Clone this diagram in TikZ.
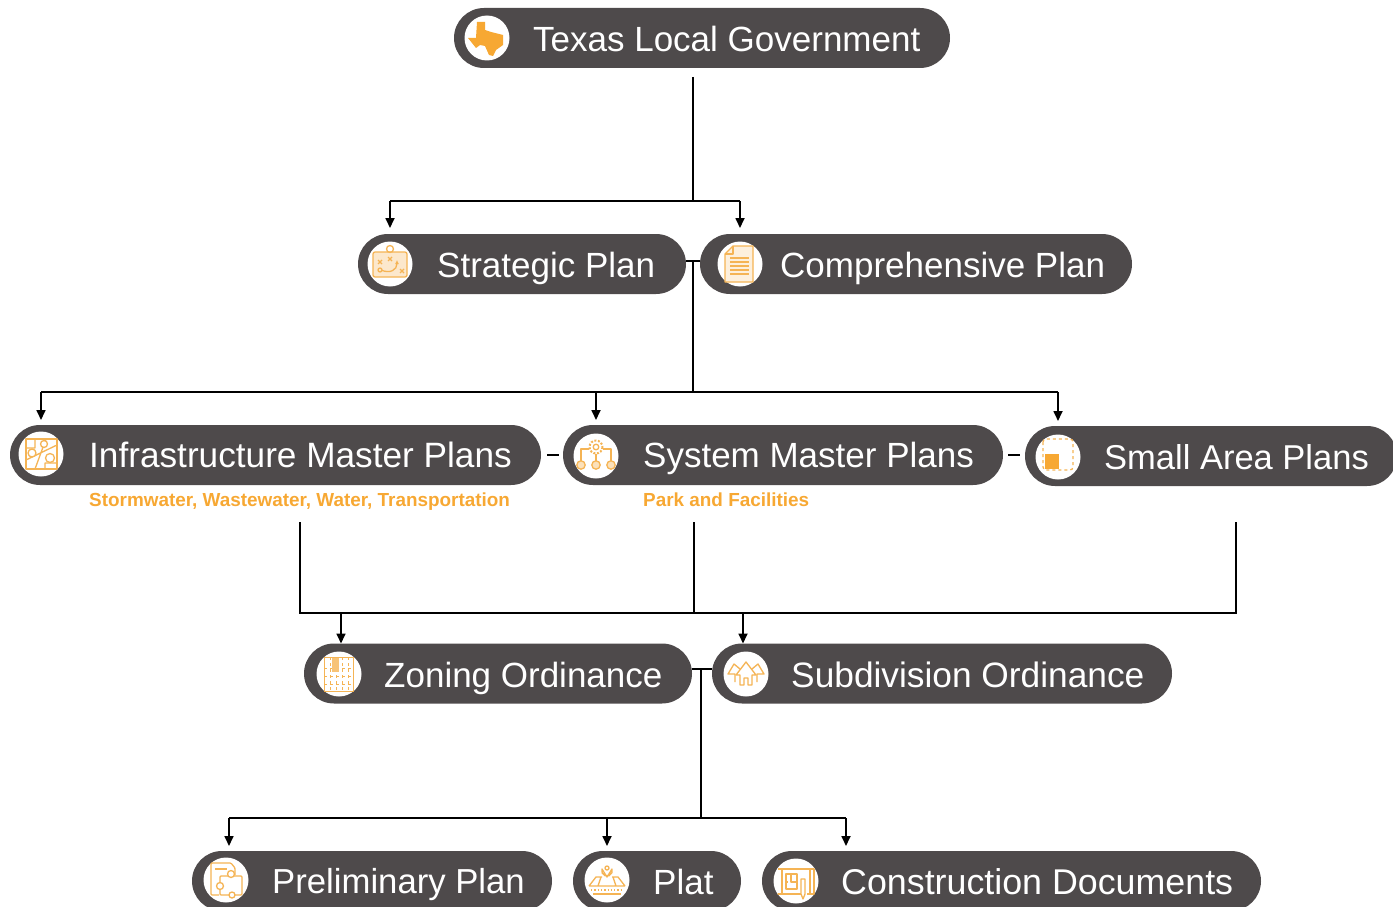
\documentclass[tikz,border=0pt]{standalone}
\usepackage{fontspec}
\setmainfont{Liberation Sans}
\usetikzlibrary{arrows.meta,shapes.misc}
\definecolor{pillgrey}{HTML}{4E4A4B}
\definecolor{amber}{HTML}{F7A833}
\definecolor{paleamber}{HTML}{F5B455}
\tikzset{
	pill/.style={rounded rectangle,fill=pillgrey,draw=none,minimum height=60pt,inner sep=0pt,outer sep=0pt},
	icon/.style={circle,fill=white,draw=none,minimum size=45pt,inner sep=0pt},
	title/.style={anchor=base west,text=white,inner sep=0pt,font=\fontsize{35}{40}\selectfont},
	note/.style={anchor=base west,text=amber,inner sep=0pt,font=\fontsize{18.9}{22}\selectfont\bfseries},
	link/.style={draw=black,line width=1.7pt},
	arrow/.style={link,-{Triangle[length=10pt,width=9pt]}},
	glyph/.style={draw=paleamber,line width=1.3pt,line join=round}
}
\begin{document}
\begin{tikzpicture}[x=1pt,y=-1pt]
	\clip (0,0) rectangle (1393,907);

	\node[pill,minimum width=496pt] (texas) at (702,38) {};
	\node[pill,minimum width=328pt] (strategic) at (522,264) {};
	\node[pill,minimum width=432pt] (comprehensive) at (916,264) {};
	\node[pill,minimum width=531pt] (infrastructure) at (275.5,455) {};
	\node[pill,minimum width=440pt] (system) at (783,455) {};
	\node[pill,minimum width=372pt] (smallarea) at (1211,456) {};
	\node[pill,minimum width=388pt] (zoning) at (498,673.5) {};
	\node[pill,minimum width=460pt] (subdivision) at (942,673.5) {};
	\node[pill,minimum width=360pt] (preliminary) at (372,881) {};
	\node[pill,minimum width=168pt] (plat) at (657,881) {};
	\node[pill,minimum width=499pt] (construction) at (1011.5,881) {};

	\node[icon] (texasicon) at (487,38) {};
	\node[icon] (strategicicon) at (390,264) {};
	\node[icon] (comprehensiveicon) at (740,264) {};
	\node[icon] (infrastructureicon) at (41,454) {};
	\node[icon] (systemicon) at (596,456) {};
	\node[icon] (smallareaicon) at (1058,457) {};
	\node[icon] (zoningicon) at (339,674) {};
	\node[icon] (subdivisionicon) at (746,674) {};
	\node[icon] (preliminaryicon) at (226,880) {};
	\node[icon] (platicon) at (607,880) {};
	\node[icon] (constructionicon) at (796,881) {};

	\node[title] (texastext) at (533,52) {Texas Local Government};
	\node[title] (strategictext) at (437,277) {Strategic Plan};
	\node[title] (comprehensivetext) at (780,277) {Comprehensive Plan};
	\node[title,font=\fontsize{35.2}{40}\selectfont] (infrastructuretext) at (89,467) {Infrastructure Master Plans};
	\node[title] (systemtext) at (643,467) {System Master Plans};
	\node[title,font=\fontsize{34.5}{40}\selectfont] (smallareatext) at (1104,469) {Small Area Plans};
	\node[title] (zoningtext) at (384,687) {Zoning Ordinance};
	\node[title,font=\fontsize{35.3}{40}\selectfont] (subdivisiontext) at (791,687) {Subdivision Ordinance};
	\node[title,font=\fontsize{34.7}{40}\selectfont] (preliminarytext) at (272,893) {Preliminary Plan};
	\node[title] (plattext) at (653,894) {Plat};
	\node[title,font=\fontsize{35.8}{40}\selectfont] (constructiontext) at (841,894) {Construction Documents};

	\node[note] (infrastructurenote) at (89,506) {Stormwater, Wastewater, Water, Transportation};
	\node[note] (systemnote) at (643,506) {Park and Facilities};

	% first level
	\coordinate (bus1) at (693,201);
	\coordinate (bus1l) at (390,201);
	\coordinate (bus1r) at (740,201);
	\draw[link,shorten <=9pt] (bus1 |- texas.south) -- (bus1);
	\draw[link] (bus1l) -- (bus1r);
	\draw[arrow,shorten >=6pt] (bus1l) -- (bus1l |- strategic.north);
	\draw[arrow,shorten >=6pt] (bus1r) -- (bus1r |- comprehensive.north);

	% second level
	\coordinate (tie1) at (693,261);
	\coordinate (bus2) at (693,392);
	\coordinate (bus2l) at (41,392);
	\coordinate (bus2m) at (596,392);
	\coordinate (bus2r) at (1058,392);
	\draw[link,line width=1.3pt] (strategic.east |- tie1) -- (comprehensive.west |- tie1);
	\draw[link] (tie1) -- (bus2);
	\draw[link] (bus2l) -- (bus2r);
	\draw[arrow,shorten >=5pt] (bus2l) -- (bus2l |- infrastructure.north);
	\draw[arrow,shorten >=5pt] (bus2m) -- (bus2m |- system.north);
	\draw[arrow,shorten >=5pt] (bus2r) -- (bus2r |- smallarea.north);
	\draw[link,line width=1.3pt,shorten <=6pt,shorten >=4pt] (infrastructure.east) -- (system.west);
	\draw[link,line width=1.3pt,shorten <=5pt,shorten >=5pt] (system.east) -- (smallarea.west |- system.east);

	% third level
	\coordinate (bus3l) at (300,613);
	\coordinate (bus3m) at (694,613);
	\coordinate (bus3r) at (1236,613);
	\coordinate (drop3l) at (341,613);
	\coordinate (drop3r) at (743,613);
	\draw[link] (bus3l |- 0,522) -- (bus3l) -- (bus3r) -- (bus3r |- 0,522);
	\draw[link] (bus3m |- 0,522) -- (bus3m);
	\draw[arrow] (drop3l) -- (drop3l |- zoning.north);
	\draw[arrow] (drop3r) -- (drop3r |- subdivision.north);

	% fourth level
	\coordinate (tie2) at (701,669);
	\coordinate (bus4) at (701,818);
	\coordinate (bus4l) at (229,818);
	\coordinate (bus4m) at (607,818);
	\coordinate (bus4r) at (846,818);
	\draw[link,line width=1.3pt] (zoning.east |- tie2) -- (subdivision.west |- tie2);
	\draw[link] (tie2) -- (bus4);
	\draw[link] (bus4l) -- (bus4r);
	\draw[arrow,shorten >=5pt] (bus4l) -- (bus4l |- preliminary.north);
	\draw[arrow,shorten >=5pt] (bus4m) -- (bus4m |- plat.north);
	\draw[arrow,shorten >=5pt] (bus4r) -- (bus4r |- construction.north);

	% texas
	\fill[amber,shift={(texasicon.center)}] (-10,-16) -- (-2,-16) -- (-2,-8) -- (4,-6) -- (16,-3) -- (16,7) -- (9,12) -- (6,18) -- (2,17) -- (-2,8) -- (-7,7) -- (-11,10) -- (-19,0) -- (-11,0) -- cycle;

	% strategic
	\begin{scope}[shift={(strategicicon.center)}]
		\draw[glyph,fill=paleamber!30,rounded corners=2pt] (-17,-12) rectangle (17,13);
		\draw[glyph] (0,-15) circle (3.5);
		\draw[glyph,-{Latex[length=4pt,width=4pt]}] (-9,6) .. controls (0,10) and (7,6) .. (7,-4);
		\draw[glyph] (-12,-4) -- (-8,0) (-12,0) -- (-8,-4) (-2,-7) -- (2,-3) (-2,-3) -- (2,-7) (10,5) -- (14,9) (10,9) -- (14,5);
		\draw[glyph] (-10,6) circle (2);
	\end{scope}

	% comprehensive
	\begin{scope}[shift={(comprehensiveicon.center)}]
		\draw[glyph,fill=paleamber!20] (-7,-18) -- (13,-18) -- (13,18) -- (-15,18) -- (-15,-10) -- cycle;
		\draw[glyph] (-7,-18) -- (-7,-10) -- (-15,-10);
		\foreach \row in {-6,-2,2,6,10}
			\draw[glyph] (-10,\row) -- (9,\row);
	\end{scope}

	% infrastructure
	\begin{scope}[shift={(infrastructureicon.center)}]
		\draw[glyph] (-15,-15) rectangle (16,15);
		\draw[glyph] (-15,-6) -- (-6,-6) -- (-6,-15) (-15,6) -- (16,-9) (-6,15) -- (5,-15) (4,15) -- (4,9) -- (16,9);
		\draw[glyph,fill=white] (-9,-1) circle (4) (3,-10) circle (3.5) (9,4) circle (4.5);
	\end{scope}

	% system
	\begin{scope}[shift={(systemicon.center)}]
		\draw[glyph] (0,-9) circle (2.8);
		\draw[glyph,line width=2pt,dash pattern=on 2pt off 1.6pt] (0,-9) circle (6.5);
		\draw[glyph] (0,-2) -- (0,5) (-7,-7) -- (-15,-7) -- (-15,5) (7,-7) -- (15,-7) -- (15,5);
		\foreach \col in {-15,0,15}
			\draw[glyph,fill=paleamber!40] (\col,9) circle (4.2);
	\end{scope}

	% small area
	\begin{scope}[shift={(smallareaicon.center)}]
		\draw[glyph,dashed,rounded corners=3pt] (-15,-18) rectangle (15,13);
		\fill[amber] (-13,-3) rectangle (1,12);
	\end{scope}

	% zoning
	\begin{scope}[shift={(zoningicon.center)}]
		\draw[glyph,line width=.7pt] (-15,-17) rectangle (14,17);
		\foreach \col in {-9,-3,3,9}
			\draw[glyph,line width=.7pt,dashed] (\col,-17) -- (\col,17);
		\foreach \row in {-6,2,10}
			\draw[glyph,line width=.7pt,dashed] (-15,\row) -- (14,\row);
		\fill[paleamber!80] (-7,-16) rectangle (0,-2);
	\end{scope}

	% subdivision
	\begin{scope}[shift={(subdivisionicon.center)}]
		\draw[glyph] (-11,8) -- (-11,0) -- (-18,0) -- (-12,-10) -- (-6,-5);
		\draw[glyph] (11,8) -- (11,0) -- (18,0) -- (12,-10) -- (6,-5);
		\draw[glyph] (-6,11) -- (-6,1) -- (-10,1) -- (0,-12) -- (10,1) -- (6,1) -- (6,11) -- (2,11) -- (2,4) -- (-2,4) -- (-2,11) -- cycle;
	\end{scope}

	% preliminary
	\begin{scope}[shift={(preliminaryicon.center)}]
		\draw[glyph,rounded corners=1pt] (-7,15) -- (-15,15) -- (-15,-17) -- (5,-17) -- (9,-12) -- (9,-5);
		\draw[glyph] (-11,-11) -- (1,-11);
		\draw[glyph,fill=white,rounded corners=1pt] (-6,-4) rectangle (16,15);
		\draw[glyph,fill=white] (5,-6) circle (3.5) (-6,6) circle (3.5) (6,15) circle (3);
	\end{scope}

	% plat
	\begin{scope}[shift={(platicon.center)}]
		\draw[glyph] (-18,6) -- (-11,-3) -- (-5,-3) (18,6) -- (11,-3) -- (5,-3) (-9,6) -- (-6,-3) (9,6) -- (6,-3) (-18,6) -- (18,6);
		\draw[glyph,fill=white] (0,-3) -- (-5,-11) arc (200:-20:5.3) -- cycle;
		\draw[glyph] (0,-12) circle (2);
		\draw[glyph,dotted] (-16,10) -- (16,10);
		\draw[glyph] (-14,14) -- (14,14);
	\end{scope}

	% construction
	\begin{scope}[shift={(constructionicon.center)}]
		\draw[glyph] (-18,-12) -- (18,-12) -- (18,13) -- (11,13) (6,13) -- (-18,13) -- cycle;
		\draw[glyph] (-14,-12) -- (-14,13) (14,-12) -- (14,13);
		\draw[glyph] (-10,-7) rectangle (1,8);
		\draw[glyph] (-5,-7) -- (-5,1) -- (1,1) (-10,1) -- (-8,1);
		\draw[glyph,fill=white] (5,-2) -- (9,-2) -- (9,13) -- (7,18) -- (5,13) -- cycle;
	\end{scope}
\end{tikzpicture}
\end{document}
